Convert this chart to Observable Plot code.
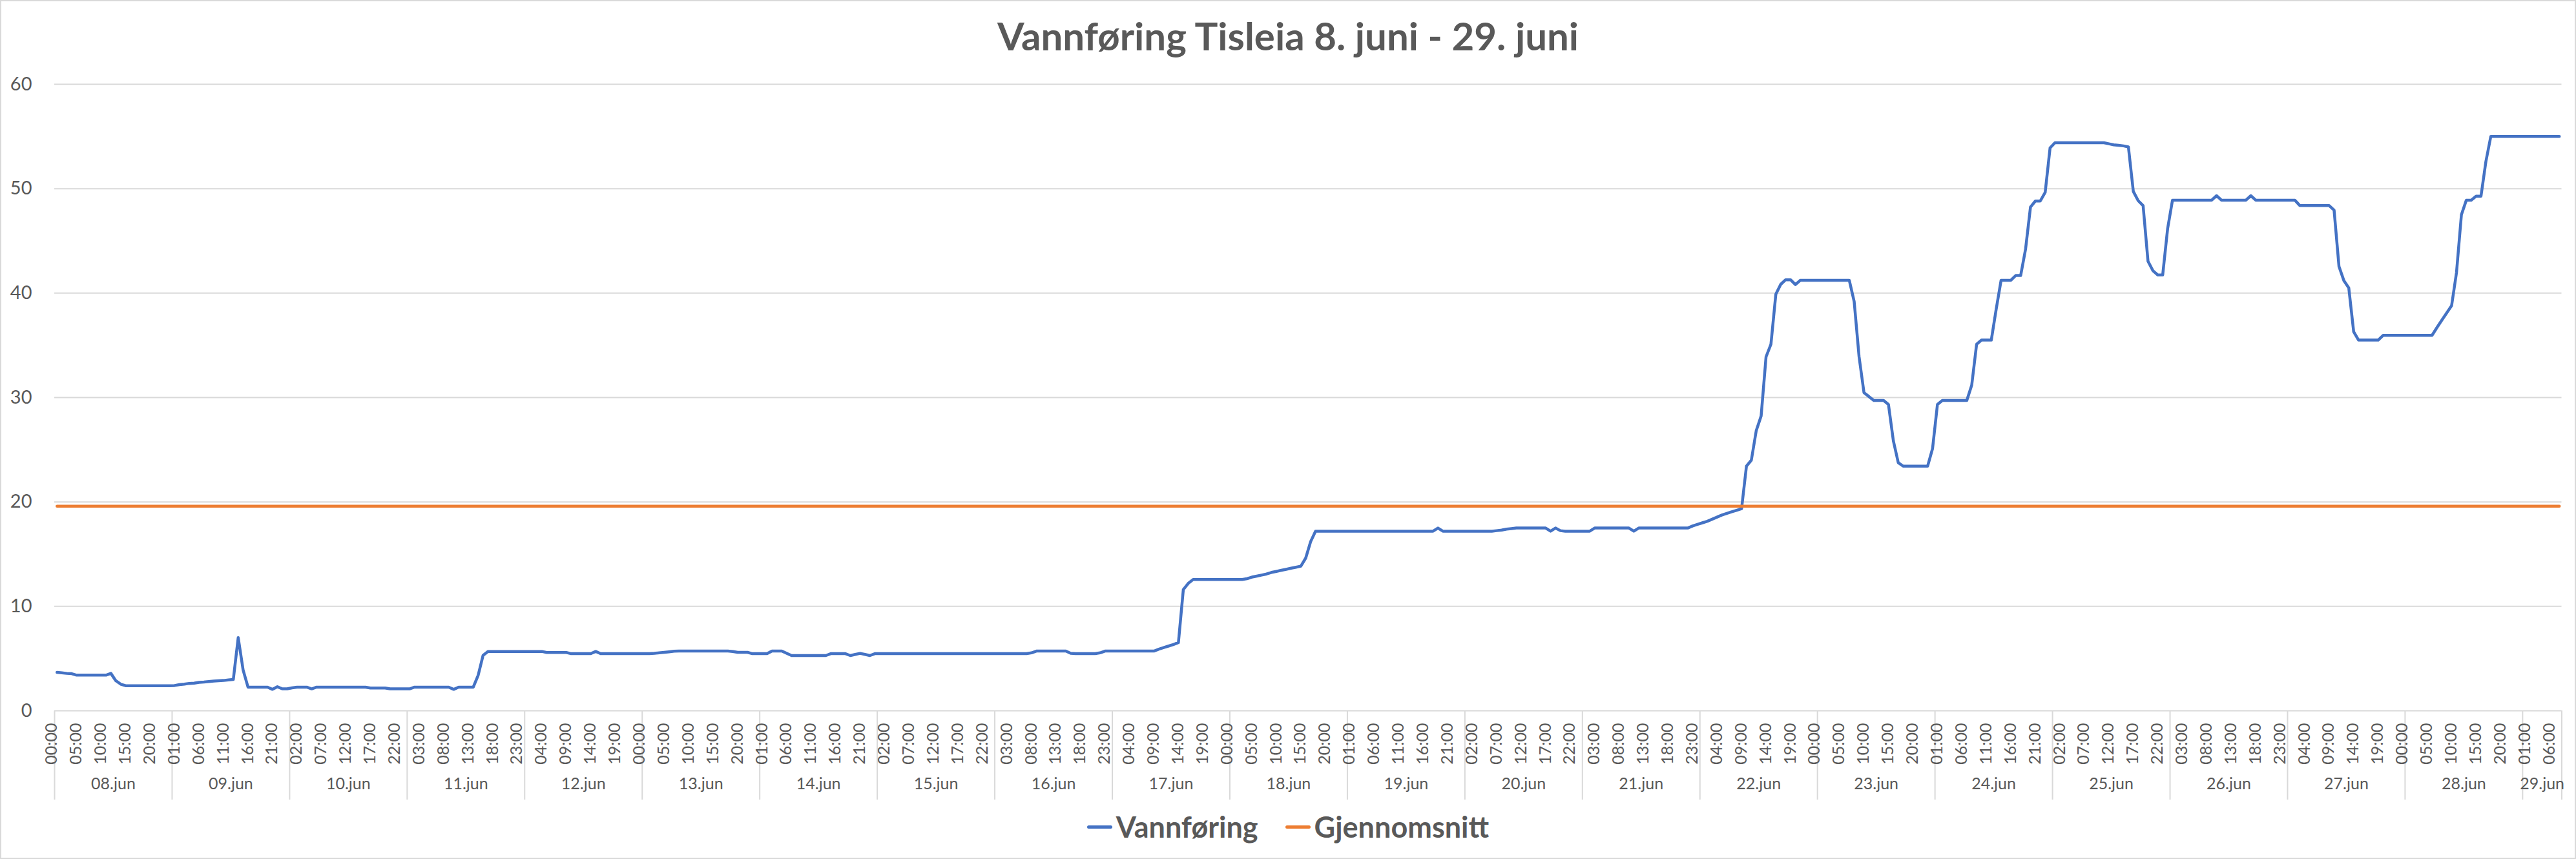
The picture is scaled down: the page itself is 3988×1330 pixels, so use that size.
<!DOCTYPE html>
<html>
<head>
<meta charset="utf-8">
<script src="https://cdn.jsdelivr.net/npm/d3@7"></script>
<script src="https://cdn.jsdelivr.net/npm/@observablehq/plot@0.6"></script>
<style>
  html, body { margin: 0; padding: 0; background: #fff; }
  #chart { position: relative; width: 3988px; height: 1330px; background: #fff; overflow: hidden;
           font-family: Lato, "Open Sans", sans-serif; color: #595959; }
  #border { position: absolute; left: 0; top: 0; width: 3988px; height: 1330px; box-sizing: border-box;
            border: 2px solid #d9d9d9; pointer-events: none; }
  #title { position: absolute; left: 0; top: 25px; width: 3988px; text-align: center;
           font-weight: 700; font-size: 60px; line-height: 60px; white-space: nowrap; }
  #plot { position: absolute; left: 0; top: 110px; }
  #legend { position: absolute; left: 0; top: 1258px; width: 3988px; display: flex; justify-content: center;
            align-items: center; font-weight: 700; font-size: 45px; line-height: 45px; }
  .item { display: flex; align-items: center; margin: 0 21px; }
  .sw { display: inline-block; width: 39px; height: 5px; border-radius: 3px; margin-right: 6px; }
  #err { position: absolute; left: 10px; top: 10px; color: red; font-size: 30px; }
</style>
</head>
<body>
<div id="chart">
  <div id="title"></div>
  <div id="plot"></div>
  <div id="legend"></div>
  <div id="border"></div>
  <div id="err"></div>
</div>
<script>
// ---- Data ----
const title = "Vannføring Tisleia 8. juni - 29. juni";
const days = ["08.jun","09.jun","10.jun","11.jun","12.jun","13.jun","14.jun","15.jun","16.jun","17.jun","18.jun",
              "19.jun","20.jun","21.jun","22.jun","23.jun","24.jun","25.jun","26.jun","27.jun","28.jun","29.jun"];
const hourLabels = ["00:00","01:00","02:00","03:00","04:00","05:00","06:00","07:00","08:00","09:00","10:00","11:00",
                    "12:00","13:00","14:00","15:00","16:00","17:00","18:00","19:00","20:00","21:00","22:00","23:00"];
const lastDayHours = 8;
const tickEvery = 5;
const yTicks = [0, 10, 20, 30, 40, 50, 60];
const seriesNames = ["Vannføring", "Gjennomsnitt"];
const seriesColors = ["#4472C4", "#ED7D31"];
const gjennomsnitt = 19.6;

// Vannføring, one value per hour (one row per day)
const vannforing = [
  3.68,3.64,3.58,3.55,3.41,3.41,3.41,3.41,3.41,3.41,3.41,3.58,2.88,2.55,2.40,2.40,2.40,2.40,2.40,2.40,2.40,2.40,2.40,2.40,
  2.42,2.50,2.55,2.62,2.65,2.72,2.75,2.80,2.85,2.88,2.90,2.95,3.00,7.00,3.90,2.26,2.26,2.26,2.26,2.26,2.05,2.30,2.10,2.10,
  2.20,2.26,2.26,2.26,2.10,2.26,2.26,2.26,2.26,2.26,2.26,2.26,2.26,2.26,2.26,2.26,2.18,2.18,2.18,2.18,2.10,2.10,2.10,2.10,
  2.10,2.26,2.26,2.26,2.26,2.26,2.26,2.26,2.26,2.05,2.26,2.26,2.26,2.26,3.40,5.30,5.68,5.68,5.68,5.68,5.68,5.68,5.68,5.68,
  5.68,5.68,5.68,5.68,5.58,5.58,5.58,5.58,5.58,5.47,5.47,5.47,5.47,5.47,5.68,5.47,5.47,5.47,5.47,5.47,5.47,5.47,5.47,5.47,
  5.47,5.47,5.50,5.55,5.60,5.65,5.70,5.72,5.72,5.72,5.72,5.72,5.72,5.72,5.72,5.72,5.72,5.72,5.68,5.60,5.60,5.60,5.47,5.47,
  5.47,5.47,5.72,5.72,5.72,5.50,5.29,5.29,5.29,5.29,5.29,5.29,5.29,5.29,5.47,5.47,5.47,5.47,5.29,5.40,5.50,5.40,5.29,5.47,
  5.47,5.47,5.47,5.47,5.47,5.47,5.47,5.47,5.47,5.47,5.47,5.47,5.47,5.47,5.47,5.47,5.47,5.47,5.47,5.47,5.47,5.47,5.47,5.47,
  5.47,5.47,5.47,5.47,5.47,5.47,5.47,5.55,5.72,5.72,5.72,5.72,5.72,5.72,5.72,5.50,5.47,5.47,5.47,5.47,5.47,5.55,5.72,5.72,
  5.72,5.72,5.72,5.72,5.72,5.72,5.72,5.72,5.72,5.90,6.05,6.20,6.35,6.53,11.60,12.20,12.57,12.57,12.57,12.57,12.57,12.57,12.57,12.57,
  12.57,12.57,12.57,12.65,12.80,12.90,13.00,13.10,13.25,13.35,13.45,13.55,13.65,13.75,13.85,14.63,16.20,17.20,17.20,17.20,17.20,17.20,17.20,17.20,
  17.20,17.20,17.20,17.20,17.20,17.20,17.20,17.20,17.20,17.20,17.20,17.20,17.20,17.20,17.20,17.20,17.20,17.20,17.50,17.20,17.20,17.20,17.20,17.20,
  17.20,17.20,17.20,17.20,17.20,17.20,17.25,17.30,17.40,17.45,17.50,17.50,17.50,17.50,17.50,17.50,17.50,17.20,17.50,17.25,17.20,17.20,17.20,17.20,
  17.20,17.20,17.50,17.50,17.50,17.50,17.50,17.50,17.50,17.50,17.20,17.50,17.50,17.50,17.50,17.50,17.50,17.50,17.50,17.50,17.50,17.50,17.70,17.85,
  18.00,18.15,18.35,18.55,18.75,18.90,19.06,19.20,19.35,23.43,24.00,26.83,28.24,33.90,35.10,39.90,40.84,41.28,41.28,40.82,41.23,41.23,41.23,41.23,
  41.23,41.23,41.23,41.23,41.23,41.23,41.23,39.18,33.90,30.46,30.10,29.72,29.72,29.72,29.33,25.86,23.76,23.43,23.43,23.43,23.43,23.43,23.43,25.10,
  29.33,29.72,29.72,29.72,29.72,29.72,29.72,31.18,35.10,35.50,35.50,35.50,38.47,41.23,41.23,41.23,41.69,41.69,44.22,48.24,48.82,48.82,49.64,53.91,
  54.40,54.40,54.40,54.40,54.40,54.40,54.40,54.40,54.40,54.40,54.40,54.30,54.20,54.15,54.10,54.00,49.74,48.85,48.38,43.05,42.15,41.74,41.74,46.15,
  48.90,48.90,48.90,48.90,48.90,48.90,48.90,48.90,48.90,49.33,48.90,48.90,48.90,48.90,48.90,48.90,49.33,48.90,48.90,48.90,48.90,48.90,48.90,48.90,
  48.90,48.90,48.38,48.38,48.38,48.38,48.38,48.38,48.38,47.95,42.56,41.20,40.50,36.30,35.50,35.50,35.50,35.50,35.50,35.95,35.95,35.95,35.95,35.95,
  35.95,35.95,35.95,35.95,35.95,35.95,36.70,37.40,38.10,38.80,41.97,47.50,48.90,48.90,49.28,49.28,52.60,55.00,55.00,55.00,55.00,55.00,55.00,55.00,
  55.00,55.00,55.00,55.00,55.00,55.00,55.00,55.00
];

// ---- Derived structures ----
const dayLengths = days.map((d, k) => k === days.length - 1 ? lastDayHours : hourLabels.length);
const dayStarts = [];
dayLengths.reduce((acc, len) => { dayStarts.push(acc); return acc + len; }, 0);
const categories = days.flatMap((d, k) => hourLabels.slice(0, dayLengths[k]).map(h => ({day: d, hour: h})));
const n = categories.length;
if (vannforing.length !== n) document.getElementById("err").textContent = "length " + vannforing.length + " vs " + n;
const avgSeries = categories.map(() => gjennomsnitt);
const hourTicks = d3.range(0, n, tickEvery);
const dayBounds = [...dayStarts.map(s => s - 0.5), n - 0.5];
const dayInfo = days.map((d, k) => ({day: d, center: dayStarts[k] + (dayLengths[k] - 1) / 2}));

const textColor = "#595959";
const gridColor = "#d9d9d9";

document.getElementById("title").textContent = title;

const chart = Plot.plot({
  width: 3988,
  height: 1130,
  marginTop: 20,
  marginBottom: 140,
  marginLeft: 84,
  marginRight: 22.5,
  style: {fontFamily: "Lato, 'Open Sans', sans-serif", color: textColor, background: "transparent", overflow: "visible"},
  x: {type: "linear", domain: [-0.5, n - 0.5], axis: null, label: null},
  y: {type: "linear", domain: [0, 60], axis: null, label: null},
  marks: [
    Plot.gridY(yTicks, {stroke: gridColor, strokeOpacity: 1, strokeWidth: 2}),
    Plot.axisY(yTicks, {tickSize: 0, tickPadding: 35, fontSize: 29, color: textColor, label: null}),
    Plot.axisX(dayBounds, {tickSize: 138, tickFormat: () => "", stroke: gridColor, strokeOpacity: 1, strokeWidth: 2, label: null}),
    Plot.text(hourTicks, {x: d => d, text: d => categories[d].hour, frameAnchor: "bottom", rotate: -90,
      textAnchor: "end", dy: 19, fontSize: 25, fill: textColor}),
    Plot.text(dayInfo, {x: "center", text: "day", frameAnchor: "bottom", dy: 121, fontSize: 25, fill: textColor}),
    Plot.line(vannforing, {x: (d, i) => i, y: d => d, stroke: seriesColors[0], strokeWidth: 4.5,
      strokeLinejoin: "round", strokeLinecap: "round"}),
    Plot.line(avgSeries, {x: (d, i) => i, y: d => d, stroke: seriesColors[1], strokeWidth: 4.5,
      strokeLinejoin: "round", strokeLinecap: "round"})
  ]
});
document.getElementById("plot").appendChild(chart);

const legend = document.getElementById("legend");
seriesNames.forEach((name, k) => {
  const item = document.createElement("div");
  item.className = "item";
  const sw = document.createElement("span");
  sw.className = "sw";
  sw.style.background = seriesColors[k];
  const label = document.createElement("span");
  label.textContent = name;
  item.appendChild(sw);
  item.appendChild(label);
  legend.appendChild(item);
});
</script>
</body>
</html>
